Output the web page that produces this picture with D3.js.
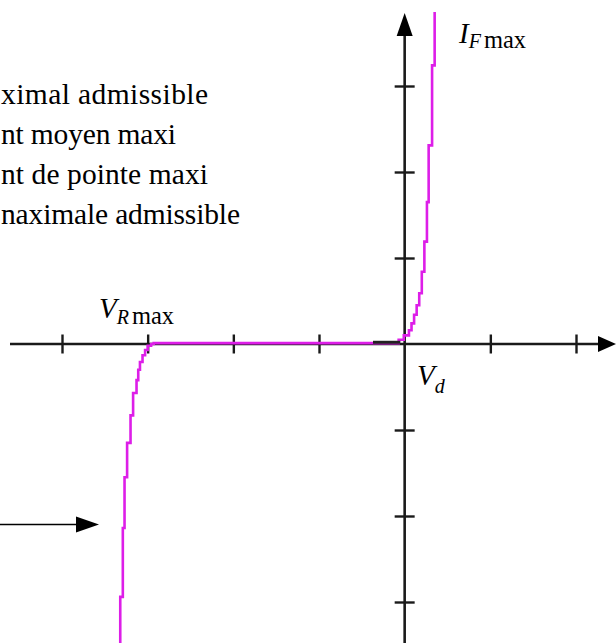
<!DOCTYPE html>
<html>
<head>
<meta charset="utf-8">
<script src="https://cdn.jsdelivr.net/npm/d3@7"></script>
<style>
  html, body { margin: 0; padding: 0; background: #fff; overflow: hidden; }
  svg { display: block; }
</style>
</head>
<body>
<script>
// Diode characteristic I = f(V), stepped trace (V in ticks, I in ticks)
const diodeV = [-3.32, -3.29, -3.27, -3.24, -3.20, -3.17, -3.13, -3.11, -3.09, -3.06, -3.03, -3.00, -2.96, -2.93,
                -0.07, -0.01, 0.05, 0.08, 0.11, 0.14, 0.17, 0.20, 0.23, 0.26, 0.28, 0.32, 0.35, 0.35];
const diodeI = [-3.56, -2.94, -2.14, -1.55, -1.15, -0.83, -0.57, -0.42, -0.30, -0.21, -0.13, -0.07, -0.02, 0.0,
                0.01, 0.05, 0.10, 0.16, 0.24, 0.34, 0.45, 0.59, 0.84, 1.19, 1.65, 2.31, 3.24, 3.86];
// dark portion of the trace just before the threshold
const kneeV = [-0.37, -0.05];
const kneeI = [0.02, 0.02];

const xTicks = [-4, -3, -2, -1, 1, 2];
const yTicks = [-3, -2, -1, 1, 2, 3];

// Legend lines (their beginnings run past the left edge)
const legendLines = [
  "ximal admissible",
  "nt moyen maxi",
  "nt de pointe maxi",
  "naximale admissible"
];

const SERIF = "'Liberation Serif', 'Times New Roman', 'DejaVu Serif', serif";
const W = 616, H = 643;
const svg = d3.select("body").append("svg").attr("width", W).attr("height", H)
  .attr("font-family", SERIF);

const x = d3.scaleLinear().domain([-4, 2]).range([62, 576]);
const y = d3.scaleLinear().domain([-3, 3]).range([602, 86]);

const axisColor = "#1a1a1a";
const x0 = x(0), y0 = y(0);

// horizontal axis line + arrow
svg.append("line").attr("x1", 10).attr("x2", 600).attr("y1", y0).attr("y2", y0)
  .attr("stroke", axisColor).attr("stroke-width", 2.6);
svg.append("path").attr("d", `M${598},${y0 - 8} L${616},${y0} L${598},${y0 + 8} Z`).attr("fill", "#000");

// vertical axis line + arrow
svg.append("line").attr("x1", x0).attr("x2", x0).attr("y1", H).attr("y2", 30)
  .attr("stroke", axisColor).attr("stroke-width", 2.6);
svg.append("path").attr("d", `M${x0 - 8},${36} L${x0},${13} L${x0 + 8},${36} Z`).attr("fill", "#000");

// tick marks centred on the axes
const xAxis = d3.axisBottom(x).tickValues(xTicks).tickSize(19).tickSizeOuter(0).tickFormat("");
svg.append("g").attr("transform", `translate(0,${y0 - 9.5})`).call(xAxis)
  .call(g => g.select(".domain").remove())
  .call(g => g.selectAll(".tick line").attr("stroke", axisColor).attr("stroke-width", 2.4));

const yAxis = d3.axisRight(y).tickValues(yTicks).tickSize(20).tickSizeOuter(0).tickFormat("");
svg.append("g").attr("transform", `translate(${x0 - 10},0)`).call(yAxis)
  .call(g => g.select(".domain").remove())
  .call(g => g.selectAll(".tick line").attr("stroke", axisColor).attr("stroke-width", 2.4));

// characteristic trace
const pts = diodeV.map((v, i) => [v, diodeI[i]]);
const line = d3.line().x(d => x(d[0])).y(d => y(d[1])).curve(d3.curveStepBefore);
svg.append("path").attr("d", line(pts))
  .attr("fill", "none").attr("stroke", "#dd1ee8").attr("stroke-width", 2.6)
  .attr("stroke-linejoin", "miter");

const knee = kneeV.map((v, i) => [v, kneeI[i]]);
svg.append("path").attr("d", d3.line().x(d => x(d[0])).y(d => y(d[1]))(knee))
  .attr("fill", "none").attr("stroke", "#222").attr("stroke-width", 3);

// pointer arrow on the left
svg.append("line").attr("x1", 0).attr("x2", 80).attr("y1", 524.5).attr("y2", 524.5)
  .attr("stroke", "#000").attr("stroke-width", 1.4);
svg.append("path").attr("d", "M76,516.5 L99,524.5 L76,532.5 Z").attr("fill", "#000");

// legend text, each line set to its printed width
const legendWidths = [207, 175, 207, 239];
legendLines.forEach((t, i) => {
  svg.append("text").attr("x", 1).attr("y", 104 + i * 40)
    .attr("font-family", SERIF).attr("font-size", 29.5).attr("fill", "#000")
    .attr("textLength", legendWidths[i]).attr("lengthAdjust", "spacing")
    .text(t);
});

// axis labels
function subLabel(px, py, main, sub, extra, dy) {
  const t = svg.append("text").attr("x", px).attr("y", py)
    .attr("font-family", SERIF).attr("fill", "#000");
  t.append("tspan").attr("font-style", "italic").attr("font-size", 29).text(main);
  t.append("tspan").attr("font-style", "italic").attr("font-size", 20).attr("dy", dy).text(sub);
  if (extra) t.append("tspan").attr("font-size", 24.5).attr("dx", 3).text(extra);
}
subLabel(459, 43, "I", "F", "max", 5);
subLabel(99, 318, "V", "R", "max", 6);
subLabel(417, 385, "V", "d", null, 8);
</script>
</body>
</html>
